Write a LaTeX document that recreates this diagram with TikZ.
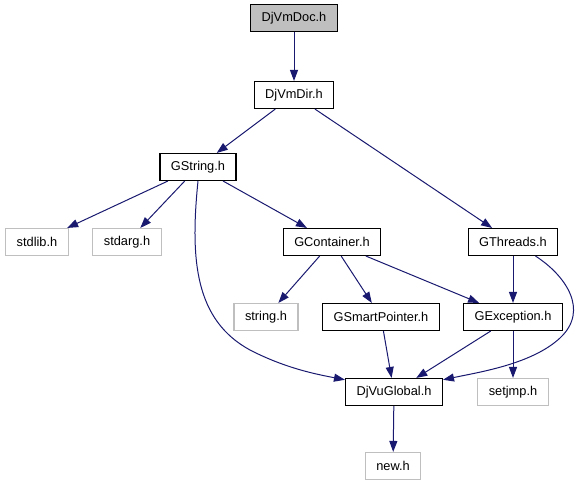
\documentclass[tikz,border=0pt]{standalone}
\usepackage{fontspec}
\setmainfont{Liberation Sans}
\usetikzlibrary{arrows.meta}
\definecolor{edgeblue}{HTML}{191970}
\definecolor{sysgray}{HTML}{BFBFBF}

\begin{document}
\begin{tikzpicture}[x=1pt,y=-1pt,
    hdr/.style={draw=black,line width=1.1pt,fill=white,minimum height=27pt,
        inner xsep=11pt,inner ysep=0pt,font=\fontsize{12.8}{15}\selectfont},
    sys/.style={hdr,draw=sysgray},
    inc/.style={draw=edgeblue,line width=1pt,
        -{Triangle[length=11pt,width=8pt]}}]

\useasboundingbox (0,0) rectangle (581,485);

% headers
\node[hdr,fill=sysgray] (doc) at (294,18) {DjVmDoc.h};
\node[hdr] (dir) at (294,95) {DjVmDir.h};
\node[hdr] (gstr) at (198,167) {GString.h};
\node[sys] (stdlib) at (37,242) {stdlib.h};
\node[sys] (stdarg) at (127,242) {stdarg.h};
\node[hdr] (gcont) at (332,242) {GContainer.h};
\node[hdr] (gthr) at (513,242) {GThreads.h};
\node[sys] (string) at (266,317) {string.h};
\node[hdr] (gsmart) at (381,317) {GSmartPointer.h};
\node[hdr] (gexc) at (513,317) {GException.h};
\node[hdr] (global) at (394,392) {DjVuGlobal.h};
\node[sys] (setjmp) at (513,392) {setjmp.h};
\node[sys] (new) at (393,466) {new.h};

% includes
\draw[inc] (doc) -- (dir);
\draw[inc] (dir) -- (gstr);
\draw[inc] (dir) -- (gthr);
\draw[inc] (gstr) -- (stdlib);
\draw[inc] (gstr) -- (stdarg);
\draw[inc] (gstr) -- (gcont);
\draw[inc] (gstr.south) .. controls (190,260) and (195,320) .. (250,350)
    .. controls (285,368) and (315,374) .. (global.166);
\draw[inc] (gcont) -- (string);
\draw[inc] (gcont) -- (gsmart);
\draw[inc] (gcont) -- (gexc);
\draw[inc] (gthr) -- (gexc);
\draw[inc] (gthr.-32) .. controls (565,275) and (590,310) .. (560,338)
    .. controls (532,364) and (480,372) .. (global.14);
\draw[inc] (gsmart) -- (global);
\draw[inc] (gexc) -- (global);
\draw[inc] (gexc) -- (setjmp);
\draw[inc] (global) -- (new);
\end{tikzpicture}
\end{document}
